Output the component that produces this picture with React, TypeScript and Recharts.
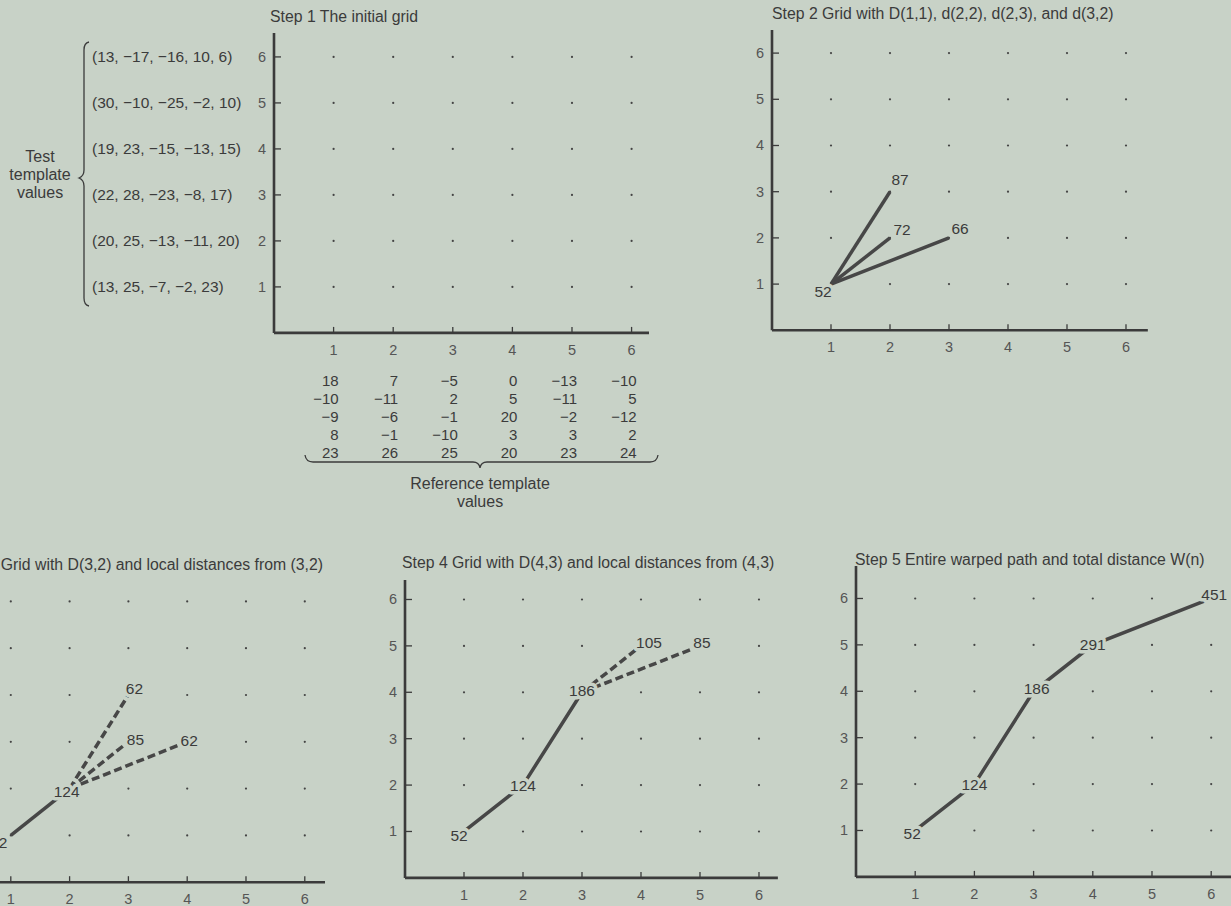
import React from 'react'
import { ScatterChart, Scatter, XAxis, YAxis } from 'recharts'

const BG = '#c8d2c7'
const INK = '#3b3b3b'
const LINE = '#474747'
const TICK_INK = '#555'
const FONT = '"Liberation Sans", Arial, Helvetica, sans-serif'

// frame numbers on both axes
const frames = [1, 2, 3, 4, 5, 6]

// test template values, rows 1..6
const testTemplate = [
  [13, 25, -7, -2, 23],
  [20, 25, -13, -11, 20],
  [22, 28, -23, -8, 17],
  [19, 23, -15, -13, 15],
  [30, -10, -25, -2, 10],
  [13, -17, -16, 10, 6],
]

// reference template values, columns 1..6
const referenceTemplate = [
  [18, -10, -9, 8, 23],
  [7, -11, -6, -1, 26],
  [-5, 2, -1, -10, 25],
  [0, 5, 20, 3, 20],
  [-13, -11, -2, 3, 23],
  [-10, 5, -12, 2, 24],
]

type Pt = { x: number; y: number; d?: number }

// step 2: D(1,1) and local distances
const step2Start: Pt = { x: 1, y: 1, d: 52 }
const step2Targets: Pt[] = [
  { x: 2, y: 3, d: 87 },
  { x: 2, y: 2, d: 72 },
  { x: 3, y: 2, d: 66 },
]

// step 3
const step3Path: Pt[] = [
  { x: 1, y: 1, d: 52 },
  { x: 2, y: 2, d: 124 },
]
const step3Targets: Pt[] = [
  { x: 3, y: 4, d: 62 },
  { x: 3, y: 3, d: 85 },
  { x: 4, y: 3, d: 62 },
]

// step 4
const step4Path: Pt[] = [
  { x: 1, y: 1, d: 52 },
  { x: 2, y: 2, d: 124 },
  { x: 3, y: 4, d: 186 },
]
const step4Targets: Pt[] = [
  { x: 4, y: 5, d: 105 },
  { x: 5, y: 5, d: 85 },
]

// step 5: whole warped path
const step5Path: Pt[] = [
  { x: 1, y: 1, d: 52 },
  { x: 2, y: 2, d: 124 },
  { x: 3, y: 4, d: 186 },
  { x: 4, y: 5, d: 291 },
  { x: 6, y: 6, d: 451 },
]

const gridPoints = frames.flatMap((x) => frames.map((y) => ({ x, y })))
const xTickMarks = frames.map((x) => ({ x, y: 0 }))
const yTickMarks = frames.map((y) => ({ x: 0, y }))

const fmt = (v: number) => (v < 0 ? '\u2212' + Math.abs(v) : String(v))

const dotShape = (p: any) => <circle cx={p.cx} cy={p.cy} r={1.1} fill="#444" />
const xTickShape = (p: any) => (
  <line x1={p.cx} y1={p.cy} x2={p.cx} y2={p.cy - 6} stroke={INK} strokeWidth={1.3} />
)
const yTickShape = (p: any) => (
  <line x1={p.cx} y1={p.cy} x2={p.cx + 7} y2={p.cy} stroke={INK} strokeWidth={1.3} />
)
const noShape = () => <g />

const plainXTick = (p: any) => (
  <text x={p.x} y={p.y + 22} textAnchor="middle" fontSize={14.5} fill={TICK_INK} fontFamily={FONT}>
    {p.payload.value}
  </text>
)
const plainYTick = (p: any) => (
  <text x={p.x - 8} y={p.y + 5} textAnchor="end" fontSize={14.5} fill={TICK_INK} fontFamily={FONT}>
    {p.payload.value}
  </text>
)
const hiddenTick = () => <g />

// step 1 ticks carry the template values
const step1XTick = (p: any) => {
  const col = referenceTemplate[p.payload.value - 1]
  return (
    <g fontFamily={FONT}>
      <text x={p.x} y={p.y + 22} textAnchor="middle" fontSize={14.5} fill={TICK_INK}>
        {p.payload.value}
      </text>
      {col.map((v, i) => (
        <text key={i} x={p.x + 5} y={p.y + 53 + i * 17.9} textAnchor="end" fontSize={15} fill={INK}>
          {fmt(v)}
        </text>
      ))}
    </g>
  )
}
const step1YTick = (p: any) => {
  const row = testTemplate[p.payload.value - 1]
  return (
    <g fontFamily={FONT}>
      <text x={p.x - 8} y={p.y + 5} textAnchor="end" fontSize={14.5} fill={TICK_INK}>
        {p.payload.value}
      </text>
      <text x={p.x - 182} y={p.y + 5} fontSize={15.5} fill={INK}>
        {'(' + row.map(fmt).join(', ') + ')'}
      </text>
    </g>
  )
}

const labelShape = (offsets: Record<string, [number, number]>) => (p: any) => {
  const o = offsets[`${p.payload.x},${p.payload.y}`] || [0, 0]
  return (
    <text
      x={p.cx + o[0]}
      y={p.cy + o[1]}
      dy="0.36em"
      textAnchor="middle"
      fontSize={15.5}
      fontFamily={FONT}
      fill={INK}
      stroke={BG}
      strokeWidth={7}
      strokeLinejoin="round"
      paintOrder="stroke"
    >
      {p.payload.d}
    </text>
  )
}

type PanelProps = {
  x0: number
  axisY: number
  dx: number
  dy: number
  xMax: number
  yMax: number
  yAxisWidth?: number
  xAxisHeight?: number
  xTick?: (p: any) => React.ReactElement
  yTick?: (p: any) => React.ReactElement
  solid?: Pt[][]
  dashed?: Pt[][]
  labels?: Pt[]
  offsets?: Record<string, [number, number]>
}

function Panel(p: PanelProps) {
  const yw = p.yAxisWidth ?? 30
  const xh = p.xAxisHeight ?? 34
  const plotW = p.xMax * p.dx
  const plotH = p.yMax * p.dy
  const axisStyle = { stroke: INK, strokeWidth: 2.6 }
  return (
    <div style={{ position: 'absolute', left: p.x0 - yw, top: p.axisY - plotH }}>
      <ScatterChart width={yw + plotW} height={plotH + xh} margin={{ top: 0, right: 0, bottom: 0, left: 0 }}>
        <XAxis
          type="number"
          dataKey="x"
          domain={[0, p.xMax]}
          ticks={frames}
          interval={0}
          height={xh}
          axisLine={axisStyle}
          tickLine={false}
          tickSize={0}
          tickMargin={0}
          tick={p.xTick ?? plainXTick}
        />
        <YAxis
          type="number"
          dataKey="y"
          domain={[0, p.yMax]}
          ticks={frames}
          interval={0}
          width={yw}
          axisLine={axisStyle}
          tickLine={false}
          tickSize={0}
          tickMargin={0}
          tick={p.yTick ?? plainYTick}
        />
        <Scatter data={gridPoints} shape={dotShape} isAnimationActive={false} />
        <Scatter data={xTickMarks} shape={xTickShape} isAnimationActive={false} />
        <Scatter data={yTickMarks} shape={yTickShape} isAnimationActive={false} />
        {(p.solid ?? []).map((seg, i) => (
          <Scatter
            key={'s' + i}
            data={seg}
            shape={noShape}
            line={{ stroke: LINE, strokeWidth: 3.5 }}
            isAnimationActive={false}
          />
        ))}
        {(p.dashed ?? []).map((seg, i) => (
          <Scatter
            key={'d' + i}
            data={seg}
            shape={noShape}
            line={{ stroke: LINE, strokeWidth: 3.5, strokeDasharray: '8 4' }}
            isAnimationActive={false}
          />
        ))}
        {p.labels && (
          <Scatter data={p.labels} shape={labelShape(p.offsets ?? {})} isAnimationActive={false} />
        )}
      </ScatterChart>
    </div>
  )
}

export default function App() {
  return (
    <div
      style={{
        position: 'absolute',
        left: 0,
        top: 0,
        width: 1231,
        height: 906,
        background: BG,
        overflow: 'hidden',
        fontFamily: FONT,
      }}
    >
      <Panel
        x0={274}
        axisY={333}
        dx={59.6}
        dy={46}
        xMax={6.3}
        yMax={6.52}
        yAxisWidth={200}
        xAxisHeight={132}
        xTick={step1XTick}
        yTick={step1YTick}
      />
      <Panel
        x0={772}
        axisY={330}
        dx={59}
        dy={46.2}
        xMax={6.37}
        yMax={6.5}
        solid={step2Targets.map((t) => [step2Start, t])}
        labels={[step2Start, ...step2Targets]}
        offsets={{ '1,1': [-8, 7], '2,3': [10, -12], '2,2': [12, -8], '3,2': [11, -9] }}
      />
      <Panel
        x0={-48}
        axisY={882}
        dx={58.8}
        dy={46.8}
        xMax={6.35}
        yMax={6.5}
        yTick={hiddenTick}
        solid={[step3Path]}
        dashed={step3Targets.map((t) => [step3Path[step3Path.length - 1], t])}
        labels={[...step3Path, ...step3Targets]}
        offsets={{ '1,1': [-12, 7], '2,2': [-3, 3], '3,4': [6, -7], '3,3': [7, -2], '4,3': [2, -1] }}
      />
      <Panel
        x0={405}
        axisY={878}
        dx={59}
        dy={46.4}
        xMax={6.32}
        yMax={6.42}
        solid={[step4Path]}
        dashed={step4Targets.map((t) => [step4Path[step4Path.length - 1], t])}
        labels={[...step4Path, ...step4Targets]}
        offsets={{ '1,1': [-5, 4], '2,2': [0, 0], '3,4': [0, -2], '4,5': [8, -3], '5,5': [2, -3] }}
      />
      <Panel
        x0={856}
        axisY={877}
        dx={59.2}
        dy={46.4}
        xMax={6.5}
        yMax={6.7}
        solid={[step5Path]}
        labels={step5Path}
        offsets={{ '1,1': [-3, 3], '2,2': [0, 0], '3,4': [3, -3], '4,5': [0, 0], '6,6': [3, -4] }}
      />

      <svg width={1231} height={906} style={{ position: 'absolute', left: 0, top: 0, pointerEvents: 'none' }}>
        <g fontFamily={FONT} fill={INK} fontSize={15.8}>
          <text x={270} y={22}>Step 1 The initial grid</text>
          <text x={772} y={19}>Step 2 Grid with D(1,1), d(2,2), d(2,3), and d(3,2)</text>
          <text x={323} y={570} textAnchor="end">Step 3 Grid with D(3,2) and local distances from (3,2)</text>
          <text x={402} y={568}>Step 4 Grid with D(4,3) and local distances from (4,3)</text>
          <text x={855} y={565}>Step 5 Entire warped path and total distance W(n)</text>
          <g textAnchor="middle" fontSize={16}>
            <text x={40} y={162}>Test</text>
            <text x={40} y={180}>template</text>
            <text x={40} y={198}>values</text>
            <text x={480} y={489}>Reference template</text>
            <text x={480} y={507}>values</text>
          </g>
        </g>
        <path
          d="M89 42 Q84 43 84 50 L84 170 Q84 176 79 178 Q84 180 84 186 L84 298 Q84 305 89 306"
          fill="none"
          stroke={INK}
          strokeWidth={1.3}
        />
        <path
          d="M305 455 Q306 462 313 462 L473 462 Q479 462 480 468 Q481 462 487 462 L650 462 Q657 462 658 455"
          fill="none"
          stroke={INK}
          strokeWidth={1.3}
        />
      </svg>
    </div>
  )
}
